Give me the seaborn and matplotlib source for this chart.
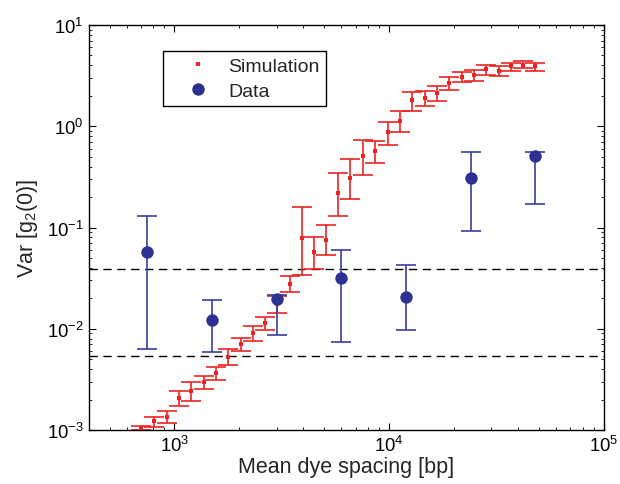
import matplotlib
matplotlib.use("Agg")
import matplotlib.pyplot as plt
from matplotlib.lines import Line2D
import numpy as np
import pandas as pd
import seaborn as sns

# Simulated variance vs mean dye spacing, with lower / upper error limits
sim_spacing = [698, 803, 923, 1049, 1194, 1371, 1560, 1774, 2037, 2317, 2636,
               3000, 3445, 3918, 4500, 5118, 5821, 6621, 7604, 8650, 9950,
               11300, 12860, 14770, 16800, 19100, 21970, 25000, 28400, 32670,
               37150, 42250, 48000]
sim_var = [0.00105, 0.00122, 0.00135, 0.00205, 0.00243, 0.00298, 0.00366,
           0.00528, 0.00702, 0.00908, 0.01137, 0.01758, 0.0275, 0.0780,
           0.0573, 0.0750, 0.2188, 0.3113, 0.508, 0.569, 0.873, 1.137,
           1.798, 1.882, 2.12, 2.67, 3.077, 3.213, 3.645, 3.54, 3.90,
           4.05, 3.94]
sim_low = [0.00100, 0.00106, 0.00118, 0.00172, 0.00195, 0.00256, 0.00314,
           0.00437, 0.00604, 0.00757, 0.00978, 0.01435, 0.0229, 0.0338,
           0.0388, 0.0531, 0.1291, 0.191, 0.329, 0.436, 0.647, 0.873,
           1.426, 1.571, 1.770, 2.274, 2.762, 2.825, 3.213, 3.14, 3.516,
           3.73, 3.54]
sim_high = [0.00109, 0.00135, 0.00155, 0.00243, 0.00298, 0.00341, 0.00421,
            0.00627, 0.00816, 0.01054, 0.01302, 0.0211, 0.0333, 0.1596,
            0.0803, 0.1062, 0.3436, 0.472, 0.729, 0.713, 1.102, 1.426,
            2.168, 2.254, 2.484, 3.043, 3.407, 3.62, 4.053, 3.90, 4.21,
            4.44, 4.24]

# Measured data
data_spacing = [750, 1500, 3000, 6000, 12000, 24000, 48000]
data_var = [0.0579, 0.01213, 0.01946, 0.03155, 0.0206, 0.307, 0.507]
data_low = [0.00627, 0.00586, 0.00869, 0.00736, 0.00973, 0.0919, 0.170]
data_high = [0.1285, 0.01928, 0.02143, 0.0601, 0.0427, 0.554, 0.554]

# Horizontal reference levels
ref_levels = [0.0387, 0.00538]

sim_df = pd.DataFrame({"spacing": sim_spacing, "var": sim_var})
data_df = pd.DataFrame({"spacing": data_spacing, "var": data_var})

sns.set_theme(style="ticks")
plt.rcParams["font.family"] = ["Liberation Sans", "DejaVu Sans"]
plt.rcParams["mathtext.fontset"] = "custom"
plt.rcParams["mathtext.rm"] = "Liberation Sans"
plt.rcParams["mathtext.it"] = "Liberation Sans"

RED = "#ee2222"
BLUE = "#2e3192"

fig = plt.figure(figsize=(6.2, 4.85), dpi=100)
ax = fig.add_axes([88.7 / 620, 1 - 431 / 485, (603.7 - 88.7) / 620,
                   (431 - 26) / 485])
ax.set_xscale("log")
ax.set_yscale("log")

for lvl in ref_levels:
    ax.axhline(lvl, color="black", lw=1.0, dashes=(6, 4), zorder=1)

sv = np.array(sim_var)
ax.errorbar(sim_spacing, sim_var,
            yerr=[sv - np.array(sim_low), np.array(sim_high) - sv],
            fmt="none", ecolor=RED, elinewidth=1.2, capsize=7.2,
            capthick=1.2, zorder=2)
sns.scatterplot(data=sim_df, x="spacing", y="var", ax=ax, color=RED,
                marker="s", s=5, linewidth=0, zorder=3, legend=False)

dv = np.array(data_var)
ax.errorbar(data_spacing, data_var,
            yerr=[dv - np.array(data_low), np.array(data_high) - dv],
            fmt="none", ecolor="#3a3f9c", elinewidth=1.2, capsize=7.2,
            capthick=1.2, zorder=4)
sns.scatterplot(data=data_df, x="spacing", y="var", ax=ax, color=BLUE,
                marker="o", s=80, linewidth=0, zorder=5, legend=False)

ax.set_xlim(400, 1e5)
ax.set_ylim(1e-3, 1e1)
ax.set_xlabel("Mean dye spacing [bp]", fontsize=15.5, labelpad=1)
ax.set_ylabel("Var [g$_2$(0)]", fontsize=15.5, labelpad=5)

ax.tick_params(which="both", direction="in", top=True, right=True,
               labelsize=13.3, colors="black")
ax.tick_params(which="major", length=5, width=0.8)
ax.tick_params(which="minor", length=2.5, width=0.6)
for side in ax.spines.values():
    side.set_visible(True)
    side.set_color("black")
    side.set_linewidth(1.0)

handles = [
    Line2D([], [], linestyle="none", marker="s", markersize=2.2,
           color=RED, markeredgewidth=0),
    Line2D([], [], linestyle="none", marker="o", markersize=9,
           color=BLUE, markeredgewidth=0),
]
leg = ax.legend(handles, ["Simulation", "Data"], loc="upper left",
                bbox_to_anchor=(0.1443, 0.935), fontsize=14, frameon=True,
                fancybox=False, edgecolor="black", framealpha=1,
                borderpad=0.32, handlelength=3.0, handletextpad=0.05,
                labelspacing=0.36, borderaxespad=0)
leg.get_frame().set_linewidth(1.0)

fig.savefig("out.png", dpi=100)
